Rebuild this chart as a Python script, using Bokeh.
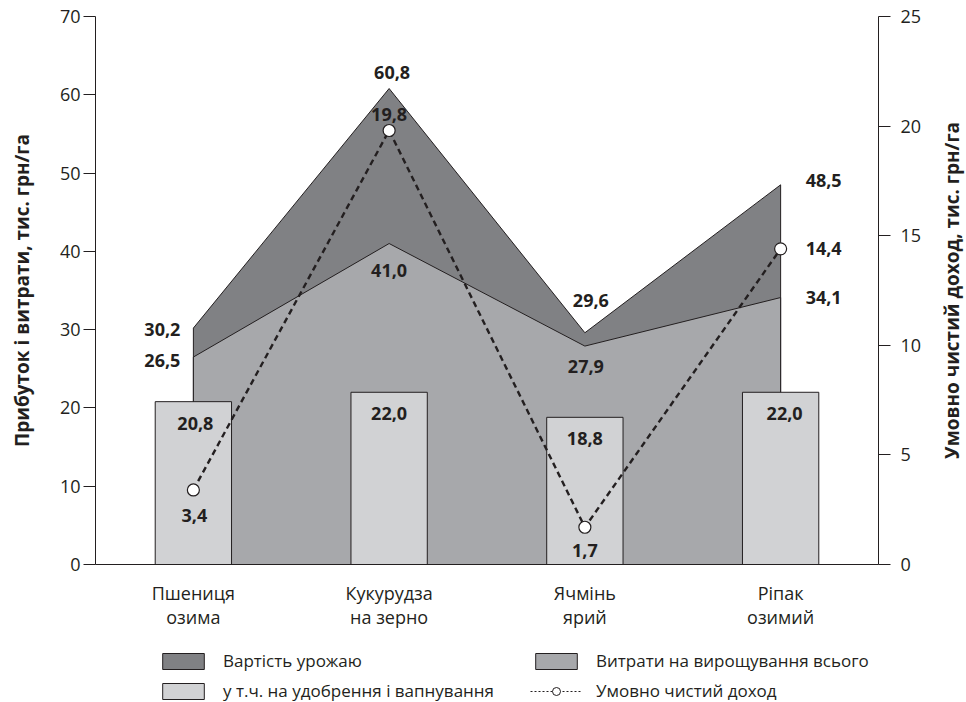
from bokeh.plotting import figure
from bokeh.layouts import column, row
from bokeh.models import (ColumnDataSource, Range1d, FactorRange, LinearAxis,
                          FixedTicker, Legend, LegendItem)
from bokeh.core.properties import value
from bokeh.embed import file_html
from bokeh.resources import INLINE

# ---- data ----
categories = ["Пшениця\nозима", "Кукурудза\nна зерно", "Ячмінь\nярий", "Ріпак\nозимий"]
harvest_value = [30.2, 60.8, 29.6, 48.5]      # Вартість урожаю
cost_total = [26.5, 41.0, 27.9, 34.1]         # Витрати на вирощування всього
cost_fert = [20.8, 22.0, 18.8, 22.0]          # у т.ч. на удобрення і вапнування
net_income = [3.4, 19.8, 1.7, 14.4]           # Умовно чистий доход (right axis)
left_ticks = [0, 10, 20, 30, 40, 50, 60, 70]
right_ticks = [0, 5, 10, 15, 20, 25]
left_title = "Прибуток і витрати, тис. грн/га"
right_title = "Умовно чистий доход, тис. грн/га"
legend_labels = ["Вартість урожаю", "у т.ч. на удобрення і вапнування",
                 "Витрати на вирощування всього", "Умовно чистий доход"]

def fmt(v):
    return f"{v:.1f}".replace(".", ",")

FONT = "Open Sans"
INK = "#231f20"
DARK = "#808184"
MID = "#a7a8ab"
LIGHT = "#d1d2d4"

p = figure(width=924, height=640, output_backend="svg", toolbar_location=None,
           x_range=FactorRange(factors=categories, range_padding=0),
           y_range=Range1d(0, 70),
           min_border_left=95, min_border_right=42, min_border_top=16, min_border_bottom=76)
p.extra_y_ranges = {"right": Range1d(0, 25)}
p.outline_line_color = None
p.xgrid.grid_line_color = None
p.ygrid.grid_line_color = None
p.background_fill_color = "white"

# ---- areas ----
px = [categories[0]] + categories + [categories[-1]]
p.patch(px, [0] + harvest_value + [0], fill_color=DARK, line_color=INK, line_width=1)
p.patch(px, [0] + cost_total + [0], fill_color=MID, line_color=INK, line_width=1)

# ---- bars ----
p.vbar(x=categories, top=cost_fert, width=0.39, fill_color=LIGHT,
       line_color=INK, line_width=1)

# ---- net income line ----
p.line(categories, net_income, y_range_name="right", line_color=INK, line_width=2.4,
       line_dash="6 4")
p.scatter(categories, net_income, y_range_name="right", size=12, marker="circle",
          fill_color="white", line_color=INK, line_width=1.2)

# ---- value labels ----
def add_labels(vals, aligns, xoffs, yoffs, range_name="default"):
    src = ColumnDataSource(dict(x=categories, y=vals, t=[fmt(v) for v in vals],
                                a=aligns, xo=xoffs, yo=yoffs))
    p.text("x", "y", text="t", source=src, y_range_name=range_name,
           text_align="a", x_offset="xo", y_offset="yo", text_baseline="middle",
           text_font=value(FONT), text_font_style="bold", text_font_size="18px",
           text_color=INK)

add_labels(harvest_value, ["right", "center", "center", "left"], [-13, 3, 6, 25], [1, -16, -32, -4])
add_labels(cost_total, ["right", "center", "center", "left"], [-13, 0, 1, 25], [3, 27, 20, 0])
add_labels(cost_fert, ["center", "center", "center", "center"], [2, 0, 0, 4], [22, 21, 21, 21])
add_labels(net_income, ["center", "center", "center", "left"], [1, 0, 0, 25], [26, -16, 23, 0], "right")

# ---- axes ----
def style_axis(ax):
    ax.axis_line_color = INK
    ax.axis_line_width = 1
    ax.major_tick_line_color = INK
    ax.major_tick_in = 0
    ax.major_tick_out = 12
    ax.minor_tick_line_color = None
    ax.major_label_text_font = FONT
    ax.major_label_text_font_size = "18px"
    ax.major_label_text_color = INK
    ax.axis_label_text_font = FONT
    ax.axis_label_text_font_style = "bold"
    ax.axis_label_text_font_size = "19px"
    ax.axis_label_text_color = INK

yl = p.yaxis[0]
style_axis(yl)
yl.ticker = FixedTicker(ticks=left_ticks)
yl.axis_label = left_title
yl.major_label_standoff = 3
yl.axis_label_standoff = 22

yr = LinearAxis(y_range_name="right", ticker=FixedTicker(ticks=right_ticks))
style_axis(yr)
yr.major_label_standoff = 10
p.add_layout(yr, "right")

xa = p.xaxis[0]
style_axis(xa)
xa.major_tick_out = 0
xa.major_label_standoff = 16
xa.major_label_text_line_height = 1.0

# ---- right-hand title strip (reads bottom-to-top, like the left title) ----
rf = figure(width=42, height=640, output_backend="svg", toolbar_location=None,
            x_range=Range1d(0, 1), y_range=Range1d(0, 25), x_axis_type=None,
            min_border_left=40, min_border_right=0, min_border_top=16, min_border_bottom=76)
rf.outline_line_color = None
rf.xgrid.grid_line_color = None
rf.ygrid.grid_line_color = None
ra = rf.yaxis[0]
style_axis(ra)
ra.ticker = FixedTicker(ticks=[])
ra.axis_line_color = None
ra.major_tick_line_color = None
ra.axis_label = right_title
ra.axis_label_standoff = 0

# ---- legend (separate strip below the chart) ----
lf = figure(width=966, height=62, output_backend="svg", toolbar_location=None,
            x_range=Range1d(0, 1), y_range=Range1d(0, 1),
            x_axis_type=None, y_axis_type=None,
            min_border_left=95, min_border_right=84, min_border_top=0, min_border_bottom=0)
lf.outline_line_color = None
lf.xgrid.grid_line_color = None
lf.ygrid.grid_line_color = None

def proxy():
    # a single point outside the visible range: only its legend swatch shows
    return ColumnDataSource(dict(x=[-10.0], y=[-10.0]))

g_harv = lf.patch("x", "y", source=proxy(), fill_color=DARK, line_color=INK, line_width=1)
g_bar = lf.patch("x", "y", source=proxy(), fill_color=LIGHT, line_color=INK, line_width=1)
g_cost = lf.patch("x", "y", source=proxy(), fill_color=MID, line_color=INK, line_width=1)
g_line = lf.line("x", "y", source=proxy(), line_color=INK, line_width=1, line_dash="2 2")
g_dot = lf.scatter("x", "y", source=proxy(), size=10, marker="circle",
                   fill_color="white", line_color=INK, line_width=1)

legend = Legend(items=[
    LegendItem(label=legend_labels[0], renderers=[g_harv]),
    LegendItem(label=legend_labels[1], renderers=[g_bar]),
    LegendItem(label=legend_labels[2], renderers=[g_cost]),
    LegendItem(label=legend_labels[3], renderers=[g_line, g_dot]),
], ncols=2, location=(62, 0))
legend.glyph_width = 52
legend.glyph_height = 20
legend.label_height = 20
legend.label_width = 300
legend.spacing = 7
legend.label_standoff = 14
legend.padding = 0
legend.margin = 0
legend.border_line_color = None
legend.background_fill_alpha = 0
legend.label_text_font = FONT
legend.label_text_font_size = "17px"
legend.label_text_color = INK
legend.label_text_baseline = "middle"
lf.add_layout(legend, "center")

layout = column(row(p, rf, spacing=0), lf, spacing=0)
open("out.html", "w").write(file_html(layout, INLINE))
